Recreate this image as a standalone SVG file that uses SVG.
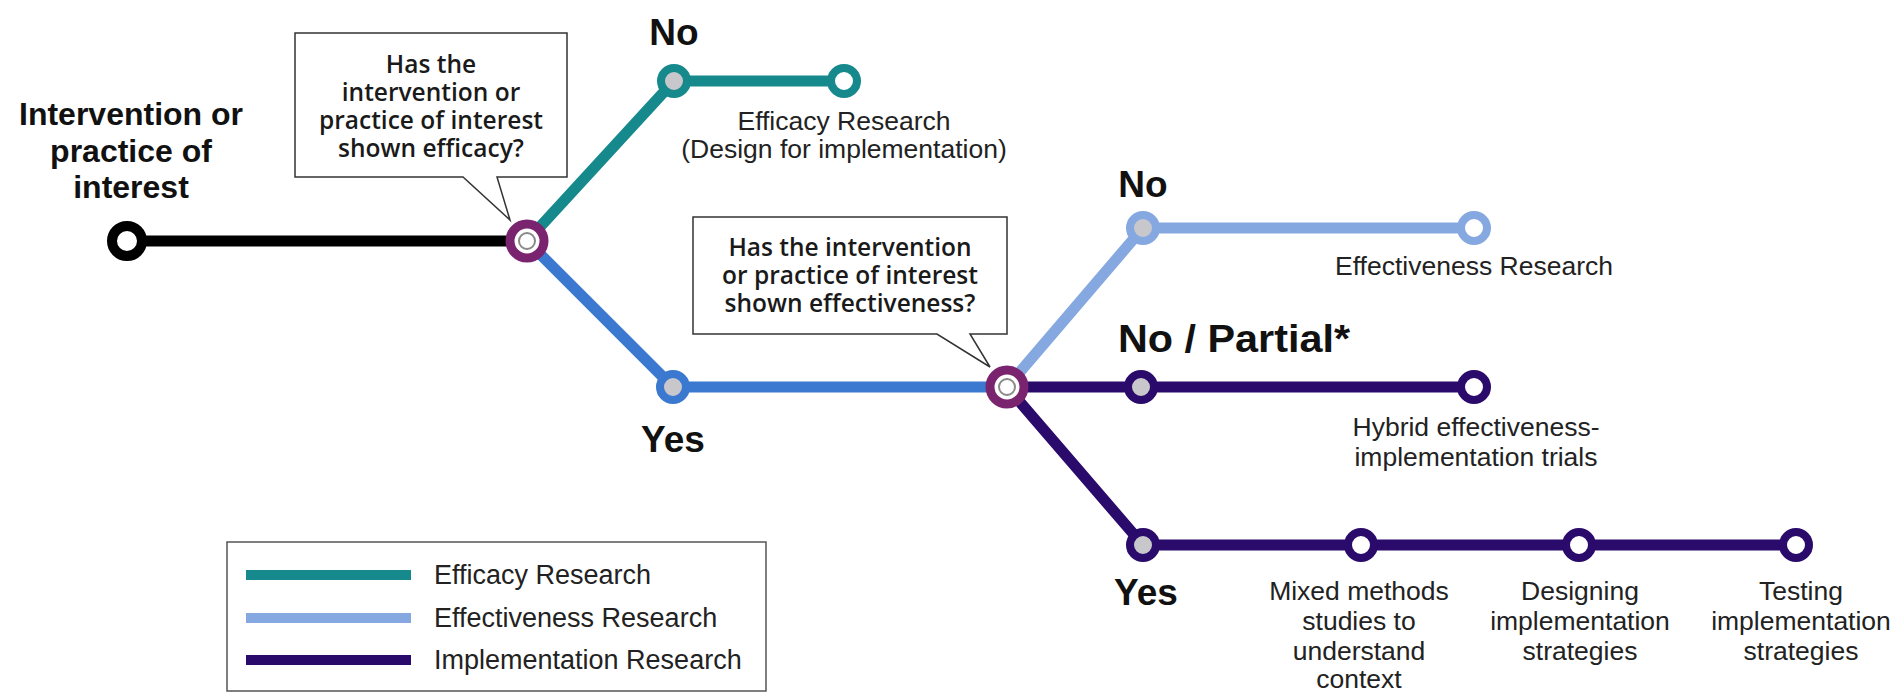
<svg xmlns="http://www.w3.org/2000/svg" width="1897" height="693" viewBox="0 0 1897 693">
<style>
.bg{fill:#ffffff}
.ln{fill:none;stroke-width:11;stroke-linejoin:round;stroke-linecap:butt}
.black{stroke:#000000}
.teal{stroke:#16898c}
.blue{stroke:#3b78cf}
.lblue{stroke:#86a8e0}
.purple{stroke:#2a0a6a}
.nd{stroke-width:8}
.grey{fill:#c8c8cc}
.white{fill:#ffffff}
.dec{fill:#ffffff;stroke:#7a2470;stroke-width:9}
.decin{fill:#ffffff;stroke:#8a8a8a;stroke-width:2}
.bold{font-family:"Liberation Sans",Arial,sans-serif;font-weight:bold;fill:#111111;text-anchor:middle}
.big{font-size:37px}
.mid{font-size:32px}
.lab{font-family:"Liberation Sans",Arial,sans-serif;font-size:26.5px;fill:#222222;text-anchor:middle}
.call{fill:#ffffff;stroke:#333333;stroke-width:1.5;stroke-linejoin:miter}
.ctext{font-family:"Open Sans","Noto Sans",sans-serif;font-weight:600;font-size:24.5px;fill:#1a1a1a;text-anchor:middle}
.leg{font-family:"Liberation Sans",Arial,sans-serif;font-size:27px;fill:#222222}
</style>
<rect class="bg" x="0" y="0" width="1897" height="693"/>

<g id="connectors">
  <path class="ln black" d="M127,241 H527"/>
  <path class="ln teal" d="M527,241 L674,81 H844"/>
  <path class="ln blue" d="M527,241 L673,387 H1007"/>
  <path class="ln lblue" d="M1007,387 L1143,228 H1474"/>
  <path class="ln purple" d="M1007,387 H1474"/>
  <path class="ln purple" d="M1007,387 L1143,545 H1796"/>
</g>

<g id="start">
  <circle cx="127" cy="241" r="15" fill="#ffffff" stroke="#000000" stroke-width="10"/>
  <text class="bold mid" x="131" y="125">Intervention or</text>
  <text class="bold mid" x="131" y="162">practice of</text>
  <text class="bold mid" x="131" y="198">interest</text>
</g>

<g id="question1">
  <path class="call" d="M295,33 H567 V177 H497 L510,220 L463,177 H295 Z"/>
  <text class="ctext" x="431" y="73">Has the</text>
  <text class="ctext" x="431" y="101">intervention or</text>
  <text class="ctext" x="431" y="129">practice of interest</text>
  <text class="ctext" x="431" y="157">shown efficacy?</text>
</g>

<g id="decision1">
  <circle class="dec" cx="527" cy="241" r="17"/>
  <circle class="decin" cx="527" cy="241" r="8"/>
</g>

<g id="efficacy-no">
  <circle class="nd grey teal" cx="674" cy="81" r="13"/>
  <text class="bold big" x="674" y="45">No</text>
</g>

<g id="efficacy-research">
  <circle class="nd white teal" cx="844" cy="81" r="13"/>
  <text class="lab" x="844" y="130">Efficacy Research</text>
  <text class="lab" x="844" y="158">(Design for implementation)</text>
</g>

<g id="efficacy-yes">
  <circle class="nd grey blue" cx="673" cy="387" r="13"/>
  <text class="bold big" x="673" y="452">Yes</text>
</g>

<g id="question2">
  <path class="call" d="M693,217 H1007 V334 H970 L990,367 L937,334 H693 Z"/>
  <text class="ctext" x="850" y="256">Has the intervention</text>
  <text class="ctext" x="850" y="284">or practice of interest</text>
  <text class="ctext" x="850" y="312">shown effectiveness?</text>
</g>

<g id="decision2">
  <circle class="dec" cx="1007" cy="387" r="17"/>
  <circle class="decin" cx="1007" cy="387" r="8"/>
</g>

<g id="effectiveness-no">
  <circle class="nd grey lblue" cx="1143" cy="228" r="13"/>
  <text class="bold big" x="1143" y="197">No</text>
</g>

<g id="effectiveness-research">
  <circle class="nd white lblue" cx="1474" cy="228" r="13"/>
  <text class="lab" x="1474" y="275">Effectiveness Research</text>
</g>

<g id="partial">
  <circle class="nd grey purple" cx="1141" cy="387" r="13"/>
  <text class="bold" font-size="39" x="1234" y="352" textLength="232" lengthAdjust="spacingAndGlyphs">No / Partial*</text>
</g>

<g id="hybrid">
  <circle class="nd white purple" cx="1474" cy="387" r="13"/>
  <text class="lab" x="1476" y="436">Hybrid effectiveness-</text>
  <text class="lab" x="1476" y="466">implementation trials</text>
</g>

<g id="effectiveness-yes">
  <circle class="nd grey purple" cx="1143" cy="545" r="13"/>
  <text class="bold big" x="1146" y="605">Yes</text>
</g>

<g id="mixed-methods">
  <circle class="nd white purple" cx="1361" cy="545" r="13"/>
  <text class="lab" x="1359" y="600">Mixed methods</text>
  <text class="lab" x="1359" y="630">studies to</text>
  <text class="lab" x="1359" y="660">understand</text>
  <text class="lab" x="1359" y="688">context</text>
</g>

<g id="designing">
  <circle class="nd white purple" cx="1579" cy="545" r="13"/>
  <text class="lab" x="1580" y="600">Designing</text>
  <text class="lab" x="1580" y="630">implementation</text>
  <text class="lab" x="1580" y="660">strategies</text>
</g>

<g id="testing">
  <circle class="nd white purple" cx="1796" cy="545" r="13"/>
  <text class="lab" x="1801" y="600">Testing</text>
  <text class="lab" x="1801" y="630">implementation</text>
  <text class="lab" x="1801" y="660">strategies</text>
</g>

<g id="legend">
  <rect x="227" y="542" width="539" height="149" fill="#ffffff" stroke="#555555" stroke-width="1.5"/>
  <line x1="246" y1="575" x2="411" y2="575" stroke="#16898c" stroke-width="10"/>
  <line x1="246" y1="618" x2="411" y2="618" stroke="#86a8e0" stroke-width="10"/>
  <line x1="246" y1="660" x2="411" y2="660" stroke="#2a0a6a" stroke-width="10"/>
  <text class="leg" x="434" y="584">Efficacy Research</text>
  <text class="leg" x="434" y="627">Effectiveness Research</text>
  <text class="leg" x="434" y="669">Implementation Research</text>
</g>
</svg>
